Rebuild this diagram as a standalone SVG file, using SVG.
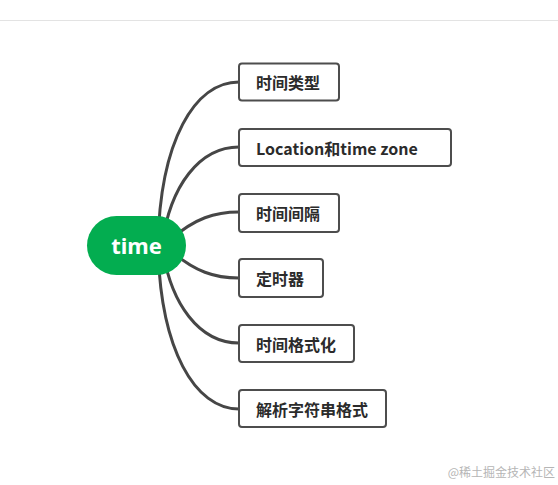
<svg xmlns="http://www.w3.org/2000/svg" width="558" height="485" viewBox="0 0 558 485">
<style>
.conn{fill:none;stroke:#464646;stroke-width:3;stroke-linecap:round}
.box{fill:#fff;stroke:#4d4d4d;stroke-width:2}
.lbl{font-family:"Noto Sans CJK SC","Noto Sans",sans-serif;font-weight:bold;font-size:16px;fill:#2b2b2b;dominant-baseline:central}
.root{font-family:"Noto Sans","Noto Sans CJK SC",sans-serif;font-weight:bold;font-size:22px;fill:#fff;text-anchor:middle;dominant-baseline:central}
</style>
<rect width="558" height="485" fill="#fff"/>
<line x1="0" y1="20.5" x2="558" y2="20.5" stroke="#e3e3e3" stroke-width="1"/>
<g id="connectors">
<path class="conn" d="M158,245 C160,140 195,82 239,82"/>
<path class="conn" d="M162,245 C170,185 200,147 239,147"/>
<path class="conn" d="M170,240 C195,218 215,212 239,212"/>
<path class="conn" d="M170,250 C195,272 215,278 239,278"/>
<path class="conn" d="M162,245 C170,305 200,343 239,343"/>
<path class="conn" d="M158,245 C160,350 195,409 239,409"/>
</g>
<g id="root">
<rect x="87" y="216" width="99" height="59" rx="29.5" fill="#03AD50"/>
<text class="root" x="136.5" y="245">time</text>
</g>
<g id="n1">
<rect class="box" x="239" y="63.5" width="100" height="37" rx="3"/>
<text class="lbl" x="256" y="82">时间类型</text>
</g>
<g id="n2">
<rect class="box" x="239" y="129" width="212" height="37" rx="3"/>
<text class="lbl" x="256" y="147.5">Location和time zone</text>
</g>
<g id="n3">
<rect class="box" x="239" y="194" width="100" height="38" rx="3"/>
<text class="lbl" x="256" y="213">时间间隔</text>
</g>
<g id="n4">
<rect class="box" x="239" y="259" width="84" height="38" rx="3"/>
<text class="lbl" x="256" y="278">定时器</text>
</g>
<g id="n5">
<rect class="box" x="239" y="325" width="115" height="37" rx="3"/>
<text class="lbl" x="256" y="343.5">时间格式化</text>
</g>
<g id="n6">
<rect class="box" x="239" y="390" width="147" height="37" rx="3"/>
<text class="lbl" x="256" y="408.5">解析字符串格式</text>
</g>
<text x="555" y="477" text-anchor="end" font-family="'Noto Sans CJK SC',sans-serif" font-size="12" fill="#b5b5b5">@稀土掘金技术社区</text>
</svg>
